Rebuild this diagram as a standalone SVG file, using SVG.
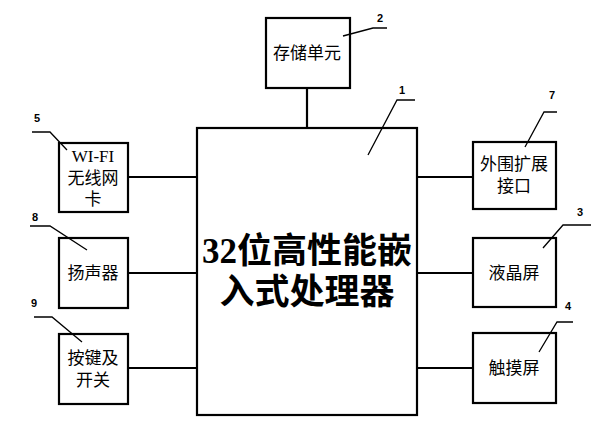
<svg xmlns="http://www.w3.org/2000/svg" width="600" height="439" viewBox="0 0 600 439">
<style>
.box{fill:#fff;stroke:#000;stroke-width:2.2}
.con{stroke:#000;stroke-width:2.2;fill:none}
.lead{stroke:#000;stroke-width:1.3;fill:none}
.t{font-family:"Liberation Serif","Noto Sans CJK SC",serif;font-size:17px;fill:#000;text-anchor:middle}
.n{font-family:"Liberation Sans",sans-serif;font-size:11px;font-weight:bold;fill:#000;text-anchor:middle}
.big{font-family:"Liberation Serif","Noto Sans CJK SC",serif;font-size:35px;font-weight:bold;fill:#000;text-anchor:middle}
</style>
<rect width="600" height="439" fill="#fff"/>
<g id="connectors">
<line class="con" x1="307" y1="88" x2="307" y2="128"/>
<line class="con" x1="128" y1="177" x2="197" y2="177"/>
<line class="con" x1="128" y1="273" x2="197" y2="273"/>
<line class="con" x1="128" y1="368" x2="197" y2="368"/>
<line class="con" x1="417" y1="177" x2="473" y2="177"/>
<line class="con" x1="417" y1="273" x2="473" y2="273"/>
<line class="con" x1="417" y1="368" x2="473" y2="368"/>
</g>
<g id="n1">
<rect class="box" x="197" y="128" width="220" height="287"/>
<text class="big" x="307" y="263">32位高性能嵌</text>
<text class="big" x="307" y="304">入式处理器</text>
<polyline class="lead" points="368,155 397,100 415,100"/>
<text class="n" x="402" y="94">1</text>
</g>
<g id="n2">
<rect class="box" x="266" y="18" width="84" height="70"/>
<text class="t" x="307" y="59">存储单元</text>
<polyline class="lead" points="343,36 373,28 387,28"/>
<text class="n" x="380" y="22">2</text>
</g>
<g id="n5">
<rect class="box" x="59" y="143" width="69" height="69"/>
<text class="t" x="93" y="162">WI-FI</text>
<text class="t" x="93" y="184">无线网</text>
<text class="t" x="93" y="205">卡</text>
<polyline class="lead" points="32,132 50,132 67,150"/>
<text class="n" x="37" y="122">5</text>
</g>
<g id="n8">
<rect class="box" x="59" y="238" width="69" height="70"/>
<text class="t" x="93" y="279">扬声器</text>
<polyline class="lead" points="30,226 50,226 87,250"/>
<text class="n" x="35" y="221">8</text>
</g>
<g id="n9">
<rect class="box" x="59" y="334" width="69" height="70"/>
<text class="t" x="93" y="364">按键及</text>
<text class="t" x="93" y="386">开关</text>
<polyline class="lead" points="34,317 52,317 82,342"/>
<text class="n" x="34" y="307">9</text>
</g>
<g id="n7">
<rect class="box" x="473" y="142" width="83" height="67"/>
<text class="t" x="514" y="170">外围扩展</text>
<text class="t" x="514" y="192">接口</text>
<polyline class="lead" points="525,147 544,112 557,112"/>
<text class="n" x="552" y="99">7</text>
</g>
<g id="n3">
<rect class="box" x="473" y="238" width="83" height="69"/>
<text class="t" x="514" y="279">液晶屏</text>
<polyline class="lead" points="543,248 563,225 591,225"/>
<text class="n" x="580" y="216">3</text>
</g>
<g id="n4">
<rect class="box" x="473" y="333" width="83" height="70"/>
<text class="t" x="514" y="374">触摸屏</text>
<polyline class="lead" points="539,352 557,322 573,322"/>
<text class="n" x="568" y="310">4</text>
</g>
</svg>
